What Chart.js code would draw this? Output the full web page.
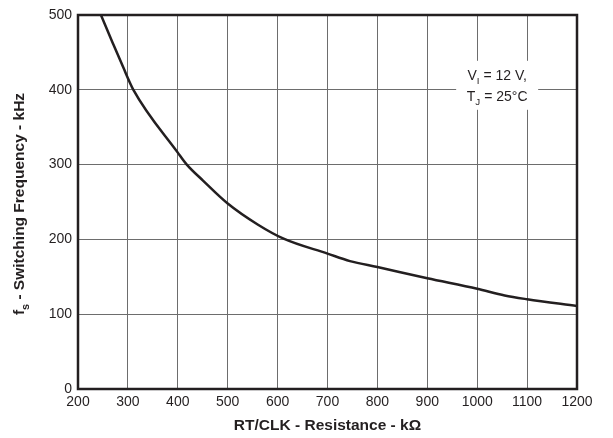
<!DOCTYPE html>
<html>
<head>
<meta charset="utf-8">
<script src="https://cdn.jsdelivr.net/npm/chart.js@4/dist/chart.umd.min.js"></script>
<style>
  html, body { margin: 0; padding: 0; background: #fff; }
  #wrap { width: 613px; height: 438px; }
</style>
</head>
<body>
<div id="wrap"><canvas id="freqChart" width="613" height="438"></canvas></div>
<script>
// RT/CLK resistance (kOhm) vs switching frequency (kHz)
var resistance = [246, 270, 290, 311, 400, 418, 450, 500, 560, 612, 700, 745, 800, 900, 1000, 1055, 1100, 1200];
var frequency  = [500, 462, 431, 400, 316, 300, 279, 248, 220, 201, 181, 171, 163, 148, 134, 125, 120, 111];
var xTicks = [200, 300, 400, 500, 600, 700, 800, 900, 1000, 1100, 1200];
var yTicks = [0, 100, 200, 300, 400, 500];

var ink = '#231f20';
var fontName = '"Liberation Sans", Arial, sans-serif';

// draws a "main + subscript" piece of text
function subText(ctx, parts, x, y, size, bold) {
    var w = 0;
    parts.forEach(function(p) {
        ctx.font = (bold ? 'bold ' : '') + (p.sub ? size * 0.7 : size) + 'px ' + fontName;
        w += ctx.measureText(p.t).width;
    });
    var cx = x - w / 2;
    parts.forEach(function(p) {
        var s = p.sub ? size * 0.7 : size;
        ctx.font = (bold ? 'bold ' : '') + s + 'px ' + fontName;
        ctx.fillText(p.t, cx, p.sub ? y + size * 0.3 : y);
        cx += ctx.measureText(p.t).width;
    });
}

var extras = {
    id: 'extras',
    afterDraw: function(chart) {
        var ctx = chart.ctx;
        var a = chart.chartArea;
        var xs = chart.scales.x, ys = chart.scales.y;
        ctx.save();

        // note box
        var nx = xs.getPixelForValue(1040);
        var ny = ys.getPixelForValue(400);
        ctx.fillStyle = '#fff';
        ctx.fillRect(nx - 41, ny - 29, 82, 49);
        ctx.fillStyle = ink;
        ctx.textBaseline = 'alphabetic';
        subText(ctx, [{t: 'V'}, {t: 'I', sub: true}, {t: ' = 12 V,'}], nx, ny - 10, 14, false);
        subText(ctx, [{t: 'T'}, {t: 'J', sub: true}, {t: ' = 25°C'}], nx, ny + 11, 14, false);

        // frame
        ctx.strokeStyle = ink;
        ctx.lineWidth = 2.5;
        ctx.strokeRect(a.left, a.top, a.right - a.left, a.bottom - a.top);

        // axis titles
        ctx.fillStyle = ink;
        subText(ctx, [{t: 'RT/CLK - Resistance - kΩ'}], (a.left + a.right) / 2, 430, 15.5, true);
        ctx.translate(24, (a.top + a.bottom) / 2 + 2);
        ctx.rotate(-Math.PI / 2);
        subText(ctx, [{t: 'f'}, {t: 's', sub: true}, {t: ' - Switching Frequency - kHz'}], 0, 0, 15.5, true);
        ctx.restore();
    }
};

var tickFont = { family: fontName, size: 14 };

new Chart(document.getElementById('freqChart').getContext('2d'), {
    type: 'line',
    data: {
        datasets: [{
            data: resistance.map(function(r, i) { return { x: r, y: frequency[i] }; }),
            borderColor: ink,
            borderWidth: 2.5,
            pointRadius: 0,
            cubicInterpolationMode: 'monotone',
            fill: false
        }]
    },
    options: {
        responsive: false,
        animation: false,
        layout: { padding: { top: 15, right: 36, left: 0, bottom: 0 } },
        plugins: { legend: { display: false }, tooltip: { enabled: false } },
        scales: {
            x: {
                type: 'linear',
                min: 200, max: 1200,
                afterBuildTicks: function(s) { s.ticks = xTicks.map(function(v) { return { value: v }; }); },
                afterFit: function(s) { s.height = 49; },
                grid: { color: '#6d6d6d', lineWidth: 1, drawTicks: false },
                border: { display: false },
                ticks: { color: ink, font: tickFont, padding: 5, maxRotation: 0,
                         callback: function(v) { return String(v); } }
            },
            y: {
                min: 0, max: 500,
                afterBuildTicks: function(s) { s.ticks = yTicks.map(function(v) { return { value: v }; }); },
                afterFit: function(s) { s.width = 78; },
                grid: { color: '#6d6d6d', lineWidth: 1, drawTicks: false },
                border: { display: false },
                ticks: { color: ink, font: tickFont, padding: 6,
                         callback: function(v) { return String(v); } }
            }
        }
    },
    plugins: [extras]
});
</script>
</body>
</html>
